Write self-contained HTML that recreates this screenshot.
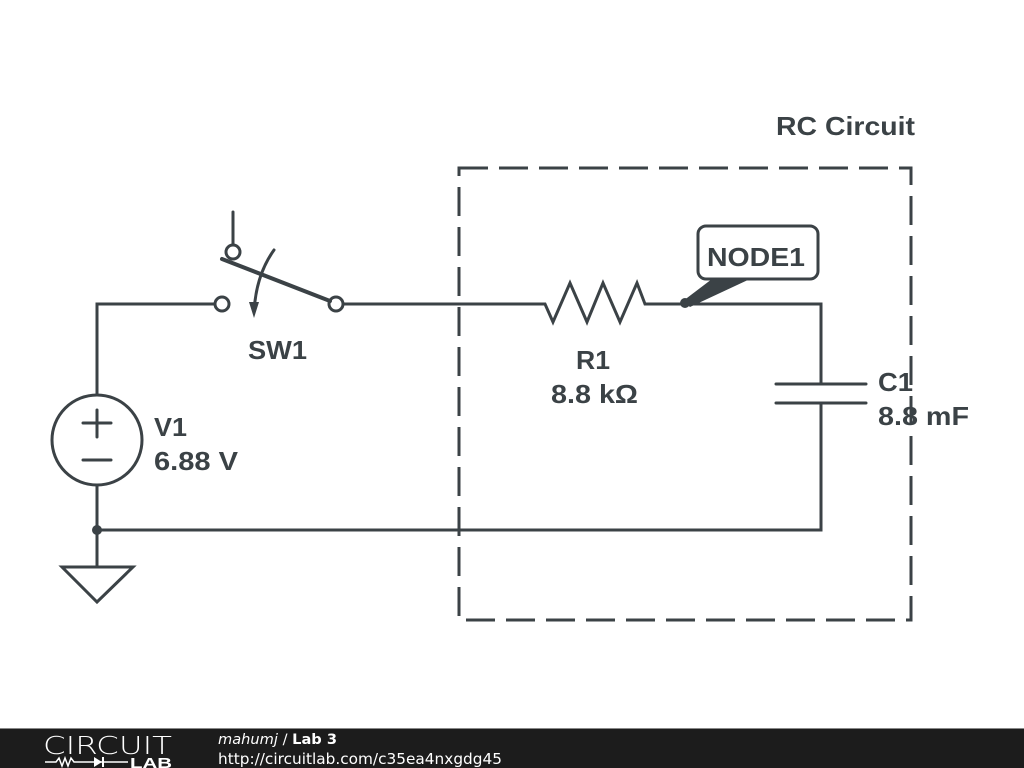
<!DOCTYPE html>
<html><head><meta charset="utf-8"><style>
body{margin:0;width:1024px;height:768px;background:#fff;overflow:hidden;font-family:"Liberation Sans",sans-serif}
</style></head><body>
<svg width="1024" height="768" viewBox="0 0 1024 768" style="position:absolute;left:0;top:0">
<g stroke="#3b4246" stroke-width="3" fill="none" stroke-linecap="round" stroke-linejoin="miter">
<rect x="459" y="168" width="452" height="452" stroke-dasharray="29 11" stroke-linecap="butt"/>
<polyline points="97,395 97,304 215,304"/>
<polyline points="343,304 545,304 553,322 570,283 587,322 603,283 620,322 637,283 645,304 821,304 821,384"/>
<polyline points="821,403 821,530 97,530"/>
<line x1="97" y1="485" x2="97" y2="567"/>
<circle cx="97" cy="440" r="45"/>
<line x1="83" y1="423" x2="111" y2="423"/><line x1="97" y1="410" x2="97" y2="437"/>
<line x1="83" y1="460" x2="111" y2="460"/>
<polygon points="62,567 133,567 97,602"/>
<line x1="776" y1="384" x2="866" y2="384"/>
<line x1="776" y1="403" x2="866" y2="403"/>
<line x1="233" y1="212" x2="233" y2="245"/>
<circle cx="233" cy="252" r="7" fill="#fff"/>
<circle cx="222" cy="304" r="7" fill="#fff"/>
<circle cx="336" cy="304" r="7" fill="#fff"/>
<line x1="222" y1="259" x2="330" y2="301" stroke-width="4"/>
<path d="M274,250 Q256,275 254,312"/>
<rect x="698" y="226" width="120" height="53" rx="8" fill="#fff"/>
</g>
<polygon points="249,302 259,302 254,318" fill="#3b4246"/>
<polygon points="683,301 712,279 750,279 690,307" fill="#3b4246"/>
<circle cx="685" cy="303" r="5" fill="#3b4246"/>
<circle cx="97" cy="530" r="5" fill="#3b4246"/>
<g fill="#3b4246" font-family="Liberation Sans, sans-serif" font-weight="bold" font-size="26" lengthAdjust="spacingAndGlyphs">
<text x="776" y="135" textLength="139" lengthAdjust="spacingAndGlyphs">RC Circuit</text>
<text x="707" y="266" textLength="98" lengthAdjust="spacingAndGlyphs">NODE1</text>
<text x="248" y="359" textLength="59" lengthAdjust="spacingAndGlyphs">SW1</text>
<text x="576" y="369" textLength="34" lengthAdjust="spacingAndGlyphs">R1</text>
<text x="551" y="403" textLength="87" lengthAdjust="spacingAndGlyphs">8.8 kΩ</text>
<text x="878" y="391" textLength="35" lengthAdjust="spacingAndGlyphs">C1</text>
<text x="878" y="425" textLength="91" lengthAdjust="spacingAndGlyphs">8.8 mF</text>
<text x="154" y="436" textLength="33" lengthAdjust="spacingAndGlyphs">V1</text>
<text x="154" y="470" textLength="84" lengthAdjust="spacingAndGlyphs">6.88 V</text>
</g>
<rect x="0" y="729" width="1024" height="39" fill="#1c1c1c"/>
<rect x="0" y="728" width="1024" height="1" fill="#888"/>
<text x="43" y="754" fill="#fff" font-family="DejaVu Sans, sans-serif" font-size="25" textLength="129" lengthAdjust="spacingAndGlyphs" font-weight="200">CIRCUIT</text>
<g stroke="#fff" stroke-width="1.5" fill="none"><polyline points="45,762 56,762 59,758 62,766 65,758 68,766 71,758 74,762 128,762"/></g>
<polygon points="94,757 94,767 102,762" fill="#fff"/><rect x="102" y="757" width="2" height="10" fill="#fff"/>
<text x="130" y="768" fill="#fff" font-family="Liberation Sans, sans-serif" font-weight="bold" font-size="15" textLength="42" lengthAdjust="spacingAndGlyphs">LAB</text>
<text x="218" y="744" fill="#fff" font-family="DejaVu Sans, sans-serif" font-size="14" textLength="119" lengthAdjust="spacingAndGlyphs"><tspan font-style="italic">mahumj</tspan> / <tspan font-weight="bold">Lab 3</tspan></text>
<text x="218" y="764" fill="#fff" font-family="DejaVu Sans, sans-serif" font-size="15" textLength="284" lengthAdjust="spacingAndGlyphs">http://circuitlab.com/c35ea4nxgdg45</text>
</svg>
</body></html>
